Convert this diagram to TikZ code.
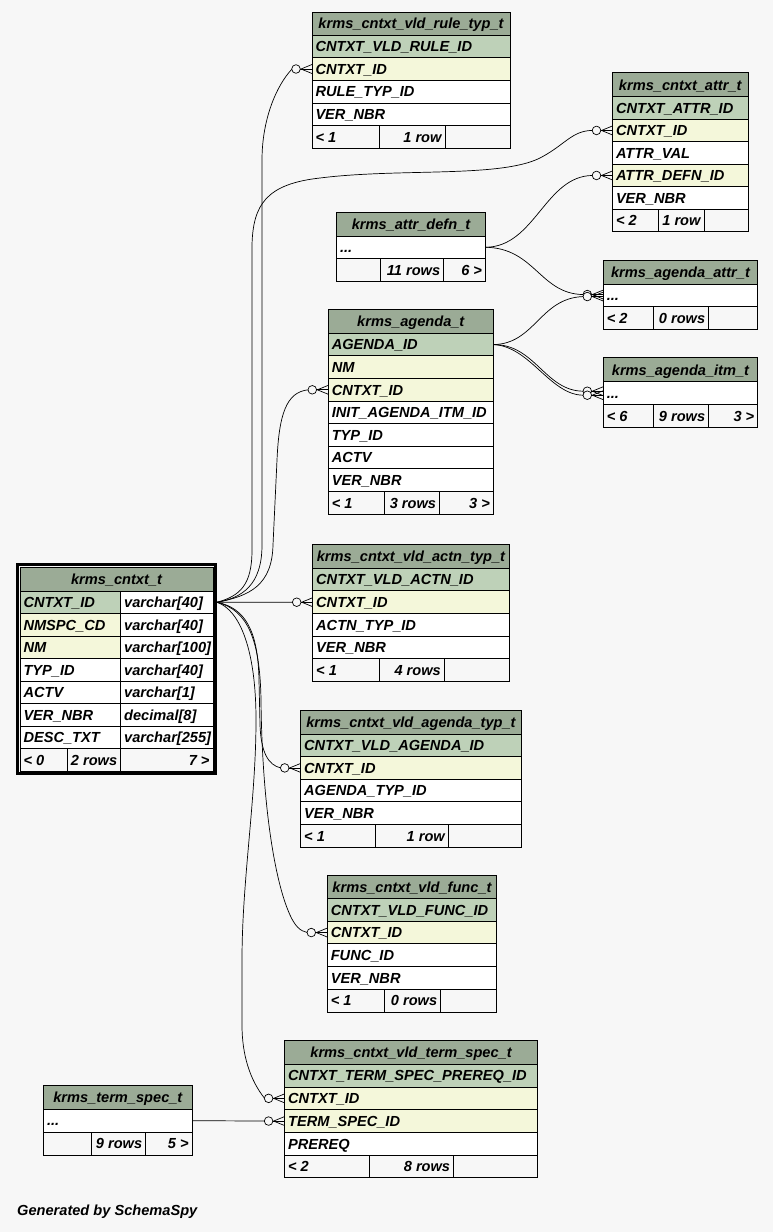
\documentclass[tikz,border=0pt]{standalone}
\usepackage{fontspec}
\setmainfont{Liberation Sans}
\usetikzlibrary{fit}
\definecolor{bg}{HTML}{F7F7F7}
\definecolor{hd}{HTML}{9BAB96}
\definecolor{pk}{HTML}{BED1B8}
\definecolor{fk}{HTML}{F4F7DA}
\newcommand\trow[7]{\node[tcell,fill=#6,minimum width=#4pt,minimum height=#5pt] (#1) at (#2,#3) {\makebox[\dimexpr#4pt-7pt\relax][l]{#7}};}
\newcommand\thd[6]{\node[tcell,fill=hd,minimum width=#4pt,minimum height=#5pt] (#1) at (#2,#3) {\makebox[\dimexpr#4pt-7pt\relax][c]{#6}};}
\newcommand\tft[7]{\node[tcell,fill=bg,minimum width=#4pt,minimum height=#5pt] (#1) at (#2,#3) {\makebox[\dimexpr#4pt-7pt\relax][#6]{#7}};}
\tikzset{
  tcell/.style={draw, line width=0.9pt, anchor=north west, outer sep=0pt, inner xsep=3.5pt, inner ysep=0pt,
    text height=11pt, text depth=0.4pt, font=\fontsize{14.6}{17}\selectfont\bfseries\itshape},
  conn/.style={line width=0.7pt},
  crowfoot/.pic={
    \draw[conn] (-12,0) -- (0,0);
    \draw[conn] (0,-4.5) -- (-11,0) -- (0,4.5);
    \draw[conn,fill=bg] (-16,0) circle[radius=4.3pt];
  }
}
\begin{document}
\begin{tikzpicture}[x=1pt,y=-1pt]
\fill[bg] (0,0) rectangle (773,1232);
\useasboundingbox (0,0) rectangle (773,1232);

% krms_cntxt_vld_rule_typ_t
\thd{rvh}{312}{12}{198}{23}{krms\_cntxt\_vld\_rule\_typ\_t}
\trow{rv1}{312}{35}{198}{22.7}{pk}{CNTXT\_VLD\_RULE\_ID}
\trow{rv2}{312}{57.7}{198}{22.6}{fk}{CNTXT\_ID}
\trow{rv3}{312}{80.3}{198}{22.7}{white}{RULE\_TYP\_ID}
\trow{rv4}{312}{103}{198}{22.7}{white}{VER\_NBR}
\tft{rvf1}{312}{125.7}{67}{22.6}{l}{< 1}
\tft{rvf2}{379}{125.7}{66}{22.6}{r}{1 row}
\tft{rvf3}{445}{125.7}{65}{22.6}{r}{}

% krms_cntxt_attr_t
\thd{cah}{612.5}{72.7}{135.5}{24}{krms\_cntxt\_attr\_t}
\trow{ca1}{612.5}{96.7}{135.5}{22.5}{pk}{CNTXT\_ATTR\_ID}
\trow{ca2}{612.5}{119.2}{135.5}{22.5}{fk}{CNTXT\_ID}
\trow{ca3}{612.5}{141.7}{135.5}{22.5}{white}{ATTR\_VAL}
\trow{ca4}{612.5}{164.2}{135.5}{22.5}{fk}{ATTR\_DEFN\_ID}
\trow{ca5}{612.5}{186.7}{135.5}{22.5}{white}{VER\_NBR}
\tft{caf1}{612.5}{209.2}{45.5}{22.5}{l}{< 2}
\tft{caf2}{658}{209.2}{46}{22.5}{r}{1 row}
\tft{caf3}{704}{209.2}{44}{22.5}{r}{}

% krms_attr_defn_t
\thd{adh}{336.5}{212.5}{149}{23.5}{krms\_attr\_defn\_t}
\trow{ad1}{336.5}{236}{149}{22.5}{white}{...}
\tft{adf1}{336.5}{258.5}{44.2}{22.5}{l}{}
\tft{adf2}{380.7}{258.5}{63}{22.5}{r}{11 rows}
\tft{adf3}{443.7}{258.5}{41.8}{22.5}{r}{6 >}

% krms_agenda_attr_t
\thd{aah}{603.3}{260.7}{154.4}{23.6}{krms\_agenda\_attr\_t}
\trow{aa1}{603.3}{284.3}{154.4}{22.5}{white}{...}
\tft{aaf1}{603.3}{306.8}{50}{22.5}{l}{< 2}
\tft{aaf2}{653.3}{306.8}{55.4}{22.5}{r}{0 rows}
\tft{aaf3}{708.7}{306.8}{49}{22.5}{r}{}

% krms_agenda_itm_t
\thd{aih}{603.3}{357.7}{154.4}{24}{krms\_agenda\_itm\_t}
\trow{ai1}{603.3}{381.7}{154.4}{23}{white}{...}
\tft{aif1}{603.3}{404.7}{50}{23}{l}{< 6}
\tft{aif2}{653.3}{404.7}{55.4}{23}{r}{9 rows}
\tft{aif3}{708.7}{404.7}{49}{23}{r}{3 >}

% krms_agenda_t
\thd{agh}{328.3}{309.3}{165}{24}{krms\_agenda\_t}
\trow{ag1}{328.3}{333.3}{165}{22.6}{pk}{AGENDA\_ID}
\trow{ag2}{328.3}{355.9}{165}{22.6}{fk}{NM}
\trow{ag3}{328.3}{378.5}{165}{22.6}{fk}{CNTXT\_ID}
\trow{ag4}{328.3}{401.1}{165}{22.6}{white}{INIT\_AGENDA\_ITM\_ID}
\trow{ag5}{328.3}{423.7}{165}{22.6}{white}{TYP\_ID}
\trow{ag6}{328.3}{446.3}{165}{22.6}{white}{ACTV}
\trow{ag7}{328.3}{468.9}{165}{22.6}{white}{VER\_NBR}
\tft{agf1}{328.3}{491.5}{56.2}{22.6}{l}{< 1}
\tft{agf2}{384.5}{491.5}{55}{22.6}{r}{3 rows}
\tft{agf3}{439.5}{491.5}{53.8}{22.6}{r}{3 >}

% krms_cntxt_t
\thd{cth}{20}{567}{193}{24}{krms\_cntxt\_t}
\trow{ct1a}{20}{591}{100.7}{22.5}{pk}{CNTXT\_ID}
\trow{ct1b}{120.7}{591}{92.3}{22.5}{white}{varchar[40]}
\trow{ct2a}{20}{613.5}{100.7}{22.5}{fk}{NMSPC\_CD}
\trow{ct2b}{120.7}{613.5}{92.3}{22.5}{white}{varchar[40]}
\trow{ct3a}{20}{636}{100.7}{22.5}{fk}{NM}
\trow{ct3b}{120.7}{636}{92.3}{22.5}{white}{varchar[100]}
\trow{ct4a}{20}{658.5}{100.7}{22.5}{white}{TYP\_ID}
\trow{ct4b}{120.7}{658.5}{92.3}{22.5}{white}{varchar[40]}
\trow{ct5a}{20}{681}{100.7}{22.5}{white}{ACTV}
\trow{ct5b}{120.7}{681}{92.3}{22.5}{white}{varchar[1]}
\trow{ct6a}{20}{703.5}{100.7}{22.5}{white}{VER\_NBR}
\trow{ct6b}{120.7}{703.5}{92.3}{22.5}{white}{decimal[8]}
\trow{ct7a}{20}{726}{100.7}{22.5}{white}{DESC\_TXT}
\trow{ct7b}{120.7}{726}{92.3}{22.5}{white}{varchar[255]}
\tft{ctf1}{20}{748.5}{47.3}{22.5}{l}{< 0}
\tft{ctf2}{67.3}{748.5}{53.4}{22.5}{r}{2 rows}
\tft{ctf3}{120.7}{748.5}{92.3}{22.5}{r}{7 >}
\node[fit=(cth)(ctf3), inner sep=2.5pt, draw, line width=3pt] (ctframe) {};

% krms_cntxt_vld_actn_typ_t
\thd{ath}{312.7}{544.3}{196.6}{24}{krms\_cntxt\_vld\_actn\_typ\_t}
\trow{at1}{312.7}{568.3}{196.6}{22.6}{pk}{CNTXT\_VLD\_ACTN\_ID}
\trow{at2}{312.7}{590.9}{196.6}{22.6}{fk}{CNTXT\_ID}
\trow{at3}{312.7}{613.5}{196.6}{22.6}{white}{ACTN\_TYP\_ID}
\trow{at4}{312.7}{636.1}{196.6}{22.6}{white}{VER\_NBR}
\tft{atf1}{312.7}{658.7}{66.6}{22.6}{l}{< 1}
\tft{atf2}{379.3}{658.7}{65}{22.6}{r}{4 rows}
\tft{atf3}{444.3}{658.7}{65}{22.6}{r}{}

% krms_cntxt_vld_agenda_typ_t
\thd{gth}{300.7}{710}{220.5}{24}{krms\_cntxt\_vld\_agenda\_typ\_t}
\trow{gt1}{300.7}{734}{220.5}{22.6}{pk}{CNTXT\_VLD\_AGENDA\_ID}
\trow{gt2}{300.7}{756.6}{220.5}{22.6}{fk}{CNTXT\_ID}
\trow{gt3}{300.7}{779.2}{220.5}{22.6}{white}{AGENDA\_TYP\_ID}
\trow{gt4}{300.7}{801.8}{220.5}{22.6}{white}{VER\_NBR}
\tft{gtf1}{300.7}{824.4}{74.6}{22.6}{l}{< 1}
\tft{gtf2}{375.3}{824.4}{73}{22.6}{r}{1 row}
\tft{gtf3}{448.3}{824.4}{72.9}{22.6}{r}{}

% krms_cntxt_vld_func_t
\thd{fnh}{327.3}{875}{169.4}{23.5}{krms\_cntxt\_vld\_func\_t}
\trow{fn1}{327.3}{898.5}{169.4}{22.7}{pk}{CNTXT\_VLD\_FUNC\_ID}
\trow{fn2}{327.3}{921.2}{169.4}{22.7}{fk}{CNTXT\_ID}
\trow{fn3}{327.3}{943.9}{169.4}{22.7}{white}{FUNC\_ID}
\trow{fn4}{327.3}{966.6}{169.4}{22.7}{white}{VER\_NBR}
\tft{fnf1}{327.3}{989.3}{57}{22.7}{l}{< 1}
\tft{fnf2}{384.3}{989.3}{56.4}{22.7}{r}{0 rows}
\tft{fnf3}{440.7}{989.3}{56}{22.7}{r}{}

% krms_cntxt_vld_term_spec_t
\thd{tsh}{284.6}{1040.7}{252.9}{23.6}{krms\_cntxt\_vld\_term\_spec\_t}
\trow{ts1}{284.6}{1064.3}{252.9}{22.7}{pk}{CNTXT\_TERM\_SPEC\_PREREQ\_ID}
\trow{ts2}{284.6}{1087}{252.9}{22.7}{fk}{CNTXT\_ID}
\trow{ts3}{284.6}{1109.7}{252.9}{22.7}{fk}{TERM\_SPEC\_ID}
\trow{ts4}{284.6}{1132.4}{252.9}{22.7}{white}{PREREQ}
\tft{tsf1}{284.6}{1155.1}{85}{22.5}{l}{< 2}
\tft{tsf2}{369.6}{1155.1}{84}{22.5}{r}{8 rows}
\tft{tsf3}{453.6}{1155.1}{83.9}{22.5}{r}{}

% krms_term_spec_t
\thd{tph}{43.6}{1085.7}{148.5}{23.6}{krms\_term\_spec\_t}
\trow{tp1}{43.6}{1109.3}{148.5}{22.7}{white}{...}
\tft{tpf1}{43.6}{1132}{48.2}{23.3}{l}{}
\tft{tpf2}{91.8}{1132}{53.9}{23.3}{r}{9 rows}
\tft{tpf3}{145.7}{1132}{46.4}{23.3}{r}{5 >}

\node[anchor=west, inner sep=0pt, font=\fontsize{14.6}{17}\selectfont\bfseries\itshape] (gen) at (17,1212) {Generated by SchemaSpy};

% connectors
\coordinate (ctsrc) at ([xshift=4pt]ct1b.east);
\draw[conn] (ctsrc) .. controls (242,598) and (262,585) .. (262,545) -- (262,160) .. controls (262,120) and (276,86) .. ([xshift=-20pt]rv2.west);
\draw[conn] (ctsrc) .. controls (240,596) and (252,585) .. (252,550) -- (252,245) .. controls (253,205) and (266,184) .. (320,178) .. controls (400,168) and (500,178) .. (540,158) .. controls (565,145) and (572,130.5) .. ([xshift=-20pt]ca2.west);
\draw[conn] (ad1.east) .. controls (535,247) and (545,176) .. ([xshift=-20pt]ca4.west);
\draw[conn] (ad1.east) .. controls (535,248) and (540,294) .. ([shift={(-20pt,1pt)}]aa1.west);
\draw[conn] (ag1.east) .. controls (535,344) and (540,298) .. ([shift={(-20pt,-1pt)}]aa1.west);
\draw[conn] (ag1.east) .. controls (535,344) and (545,391) .. ([shift={(-20pt,2pt)}]ai1.west);
\draw[conn] (ag1.east) .. controls (530,346) and (550,395) .. ([shift={(-20pt,-2pt)}]ai1.west);
\draw[conn] (ctsrc) .. controls (250,596) and (272,585) .. (273,545) -- (277,460) .. controls (279,415) and (286,392) .. ([xshift=-20pt]ag3.west);
\draw[conn] (ctsrc) -- ([xshift=-20pt]at2.west);
\draw[conn] (ctsrc) .. controls (245,608) and (258,630) .. (259,680) -- (260,725) .. controls (261,752) and (268,765) .. ([xshift=-20pt]gt2.west);
\draw[conn] (ctsrc) .. controls (248,610) and (260,640) .. (261,700) .. controls (262,800) and (274,880) .. (290,915) .. controls (295,926) and (300,931) .. ([xshift=-20pt]fn2.west);
\draw[conn] (ctsrc) .. controls (240,610) and (256,650) .. (256,720) .. controls (256,800) and (242,880) .. (242,960) -- (242,1025) .. controls (242,1055) and (250,1080) .. ([xshift=-20pt]ts2.west);
\draw[conn] (tp1.east) -- ([xshift=-20pt]ts3.west);

% markers
\pic at (rv2.west) {crowfoot};
\pic at (ca2.west) {crowfoot};
\pic at (ca4.west) {crowfoot};
\pic at ([yshift=1pt]aa1.west) {crowfoot};
\pic at ([yshift=-1pt]aa1.west) {crowfoot};
\pic at ([yshift=2pt]ai1.west) {crowfoot};
\pic at ([yshift=-2pt]ai1.west) {crowfoot};
\pic at (ag3.west) {crowfoot};
\pic at (at2.west) {crowfoot};
\pic at (gt2.west) {crowfoot};
\pic at (fn2.west) {crowfoot};
\pic at (ts2.west) {crowfoot};
\pic at (ts3.west) {crowfoot};
\end{tikzpicture}
\end{document}
